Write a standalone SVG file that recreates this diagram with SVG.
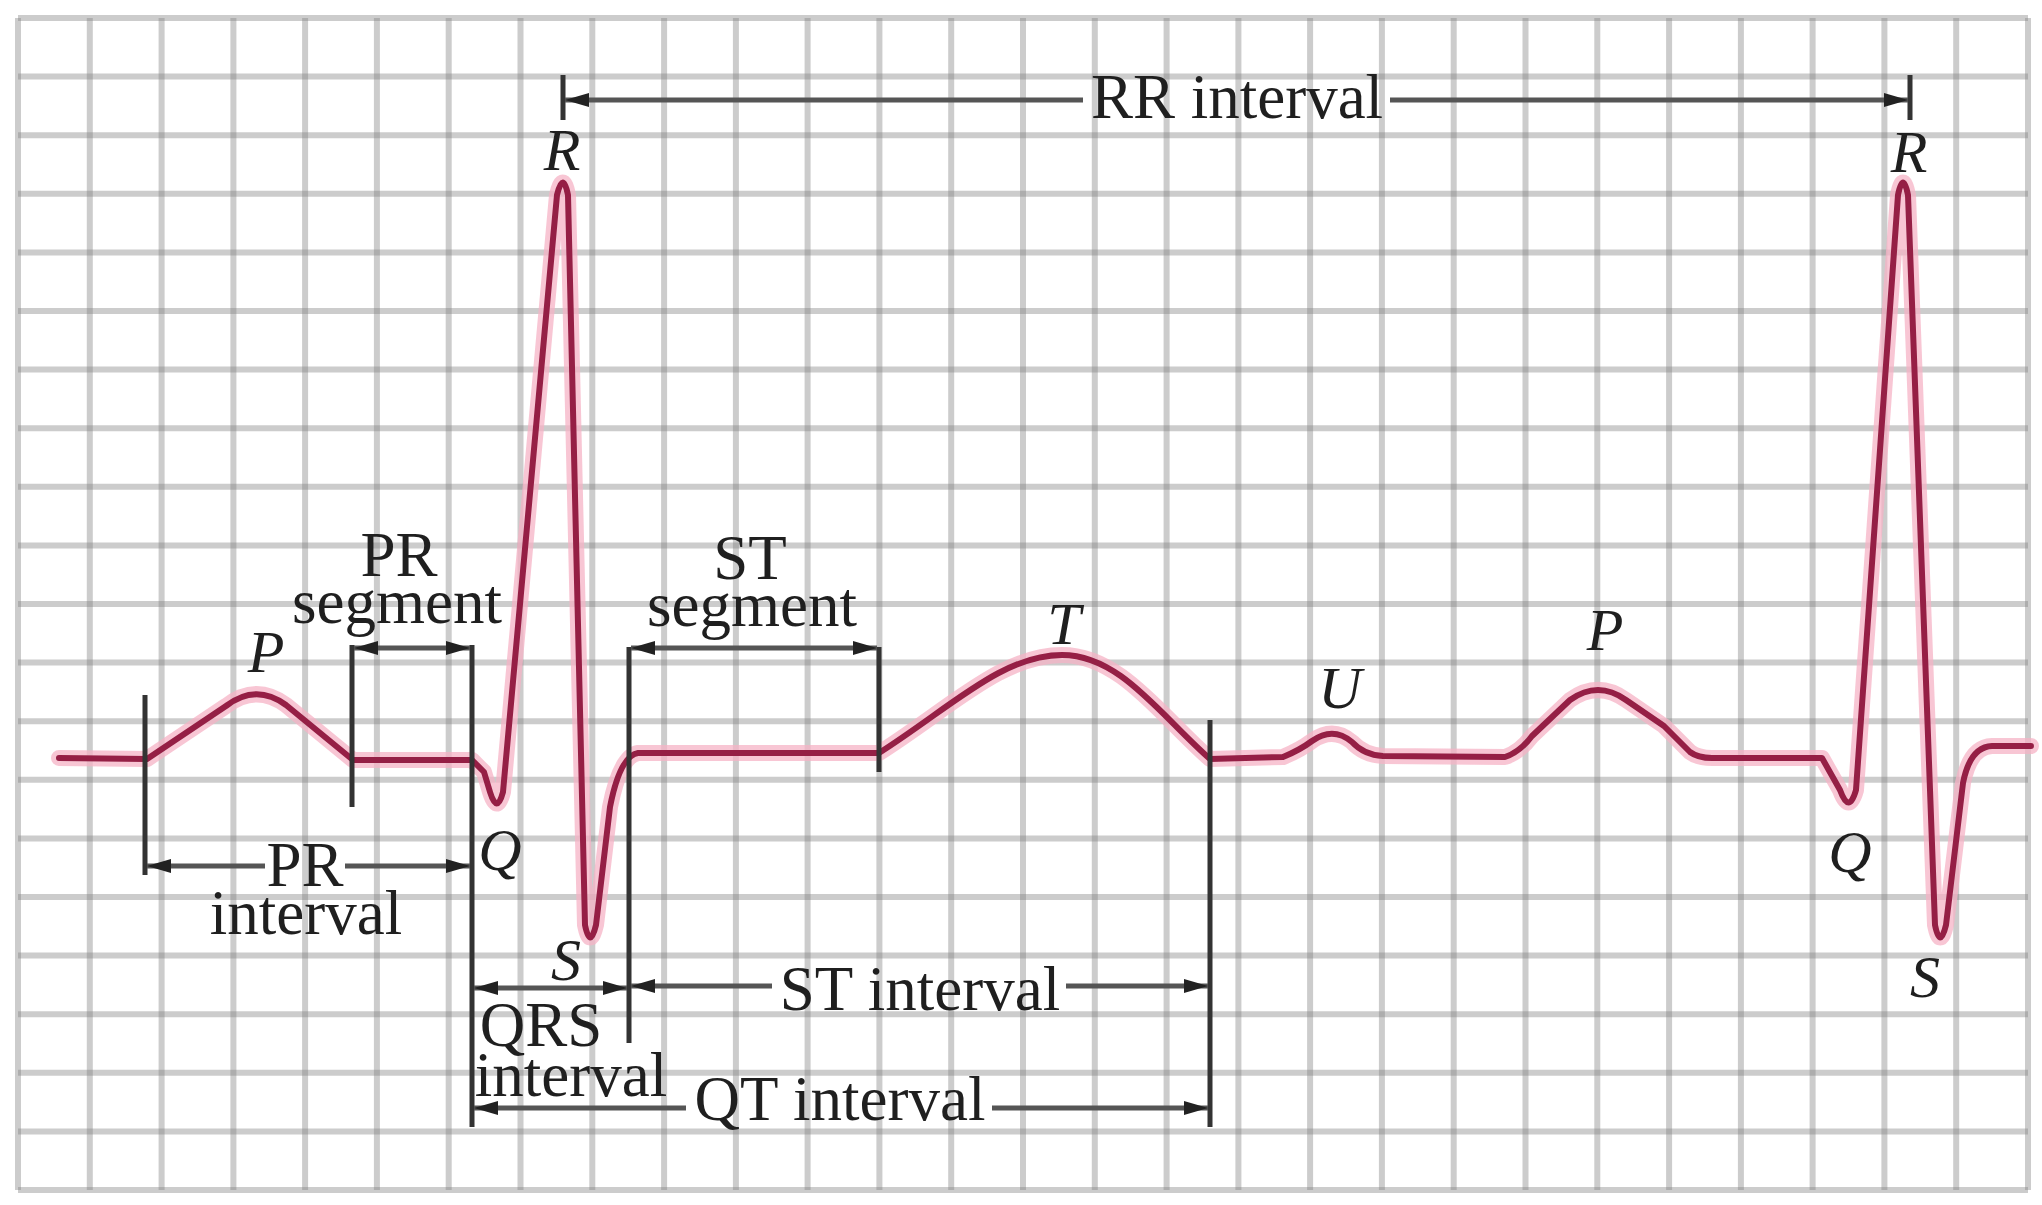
<svg xmlns="http://www.w3.org/2000/svg" width="2042" height="1205" viewBox="0 0 2042 1205">
  <defs>
    <style>
      .grid { fill: none; stroke: #7f7f7f; stroke-opacity: 0.4; stroke-width: 6; }
      .halo { fill: none; stroke: #f5b3c5; stroke-opacity: 0.75; stroke-width: 16; stroke-linejoin: round; stroke-linecap: round; }
      .core { fill: none; stroke: #951f45; stroke-width: 6; stroke-linejoin: round; stroke-linecap: round; }
      .tick { fill: none; stroke: #333333; stroke-width: 5; }
      .br { fill: none; stroke: #555555; stroke-width: 5; }
      .txt { font-family: "Liberation Serif", "Times New Roman", serif; font-size: 63px; fill: #1f1f1f; text-anchor: middle; }
      .lbl { font-family: "Liberation Serif", "Times New Roman", serif; font-size: 60px; font-style: italic; fill: #1f1f1f; text-anchor: middle; }
    </style>
    <marker id="arr" viewBox="0 0 24 14" refX="24" refY="7" markerWidth="24" markerHeight="14" markerUnits="userSpaceOnUse" orient="auto-start-reverse">
      <path d="M0,0 L24,7 L0,14 z" fill="#222222"/>
    </marker>
  </defs>

  <rect width="2042" height="1205" fill="#ffffff"/>

  <g id="grid">
    <path class="grid" d="M18,18V1190M89.8,18V1190M161.6,18V1190M233.4,18V1190M305.1,18V1190M376.9,18V1190M448.7,18V1190M520.5,18V1190M592.3,18V1190M664.1,18V1190M735.9,18V1190M807.6,18V1190M879.4,18V1190M951.2,18V1190M1023,18V1190M1094.8,18V1190M1166.6,18V1190M1238.4,18V1190M1310.1,18V1190M1381.9,18V1190M1453.7,18V1190M1525.5,18V1190M1597.3,18V1190M1669.1,18V1190M1740.9,18V1190M1812.6,18V1190M1884.4,18V1190M1956.2,18V1190M2028,18V1190"/>
    <path class="grid" d="M18,18H2028M18,76.6H2028M18,135.2H2028M18,193.8H2028M18,252.4H2028M18,311H2028M18,369.6H2028M18,428.2H2028M18,486.8H2028M18,545.4H2028M18,604H2028M18,662.6H2028M18,721.2H2028M18,779.8H2028M18,838.4H2028M18,897H2028M18,955.6H2028M18,1014.2H2028M18,1072.8H2028M18,1131.4H2028M18,1190H2028"/>
  </g>

  <g id="ecg-trace">
    <path id="trace-halo" class="halo" d="M59,758 L147,759 L226,706 Q256,683 286,705 L353,760 L472,760 L484,772 L490,792 Q497,815 503,792 L557,195 Q563,170 568,195 L585,925 Q590,950 596,925 L610,807 Q620,756 638,753 L879,753 C950,708 1002,655 1062,655 C1120,655 1160,715 1210,759 L1283,757 Q1300,750 1312,741 Q1333,726 1352,742 Q1364,755 1383,756 L1505,757 Q1520,752 1532,736 L1570,700 Q1598,680 1626,700 L1664,726 L1690,752 Q1698,758 1712,758 L1822,758 L1840,790 Q1849,815 1856,790 L1898,195 Q1903,170 1908,195 L1935,925 Q1940,950 1946,925 L1963,783 Q1970,747 1992,746 L2031,746"/>
    <path id="trace-core" class="core" d="M59,758 L147,759 L226,706 Q256,683 286,705 L353,760 L472,760 L484,772 L490,792 Q497,815 503,792 L557,195 Q563,170 568,195 L585,925 Q590,950 596,925 L610,807 Q620,756 638,753 L879,753 C950,708 1002,655 1062,655 C1120,655 1160,715 1210,759 L1283,757 Q1300,750 1312,741 Q1333,726 1352,742 Q1364,755 1383,756 L1505,757 Q1520,752 1532,736 L1570,700 Q1598,680 1626,700 L1664,726 L1690,752 Q1698,758 1712,758 L1822,758 L1840,790 Q1849,815 1856,790 L1898,195 Q1903,170 1908,195 L1935,925 Q1940,950 1946,925 L1963,783 Q1970,747 1992,746 L2031,746"/>
  </g>

  <g id="connectors">
    <path class="tick" d="M563,75V120 M1910,75V120 M145,695V875 M352,645V807 M472,645V1127 M629,647V1043 M879,647V772 M1210,720V1127"/>
    <line class="br" x1="1083" y1="100" x2="565" y2="100" marker-end="url(#arr)"/>
    <line class="br" x1="1390" y1="100" x2="1908" y2="100" marker-end="url(#arr)"/>
    <line class="br" x1="354" y1="648" x2="470" y2="648" marker-start="url(#arr)" marker-end="url(#arr)"/>
    <line class="br" x1="631" y1="648" x2="877" y2="648" marker-start="url(#arr)" marker-end="url(#arr)"/>
    <line class="br" x1="265" y1="866" x2="147" y2="866" marker-end="url(#arr)"/>
    <line class="br" x1="345" y1="866" x2="470" y2="866" marker-end="url(#arr)"/>
    <line class="br" x1="474" y1="988" x2="627" y2="988" marker-start="url(#arr)" marker-end="url(#arr)"/>
    <line class="br" x1="772" y1="986" x2="631" y2="986" marker-end="url(#arr)"/>
    <line class="br" x1="1066" y1="986" x2="1208" y2="986" marker-end="url(#arr)"/>
    <line class="br" x1="686" y1="1108" x2="474" y2="1108" marker-end="url(#arr)"/>
    <line class="br" x1="992" y1="1108" x2="1208" y2="1108" marker-end="url(#arr)"/>
  </g>

  <g id="interval-labels">
    <text id="rr-interval" class="txt" x="1237" y="118">RR interval</text>
    <text id="pr-segment" class="txt"><tspan x="399" y="576">PR</tspan><tspan x="397" y="623">segment</tspan></text>
    <text id="st-segment" class="txt"><tspan x="750" y="579">ST</tspan><tspan x="752" y="626">segment</tspan></text>
    <text id="pr-interval" class="txt"><tspan x="305" y="886">PR</tspan><tspan x="306" y="934">interval</tspan></text>
    <text id="qrs-interval" class="txt"><tspan x="541" y="1046">QRS</tspan><tspan x="571" y="1096">interval</tspan></text>
    <text id="st-interval" class="txt" x="920" y="1010">ST interval</text>
    <text id="qt-interval" class="txt" x="840" y="1120">QT interval</text>
  </g>

  <g id="wave-labels">
    <text id="lbl-p1" class="lbl" x="266" y="672">P</text>
    <text id="lbl-q1" class="lbl" x="500" y="870">Q</text>
    <text id="lbl-r1" class="lbl" x="562" y="170">R</text>
    <text id="lbl-s1" class="lbl" x="566" y="980">S</text>
    <text id="lbl-t" class="lbl" x="1064" y="644">T</text>
    <text id="lbl-u" class="lbl" x="1340" y="708">U</text>
    <text id="lbl-p2" class="lbl" x="1605" y="650">P</text>
    <text id="lbl-q2" class="lbl" x="1850" y="872">Q</text>
    <text id="lbl-r2" class="lbl" x="1909" y="172">R</text>
    <text id="lbl-s2" class="lbl" x="1925" y="997">S</text>
  </g>
</svg>
